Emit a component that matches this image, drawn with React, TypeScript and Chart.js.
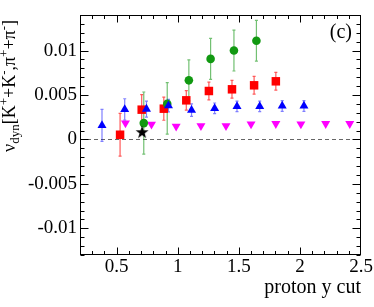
import React, { useEffect, useRef } from "react";
import { Chart, registerables } from "chart.js";
Chart.register(...registerables);

const X_TICKS = [0.5, 1, 1.5, 2, 2.5];
const X_TICK_LABELS = ["0.5", "1", "1.5", "2", "2.5"];
const Y_TICKS = [-0.01, -0.005, 0, 0.005, 0.01];
const Y_TICK_LABELS = ["-0.01", "-0.005", "0", "0.005", "0.01"];

const greenX = [0.722, 0.914, 1.091, 1.269, 1.46, 1.644];
const greenY = [0.00184, 0.004, 0.00665, 0.00906, 0.01, 0.0111];
const greenErrUp = [0.0035, 0.0024, 0.0023, 0.0023, 0.0023, 0.0023];
const greenErrDown = [0.0035, 0.0034, 0.0023, 0.0023, 0.0023, 0.0023];

const redX = [0.528, 0.705, 0.886, 1.07, 1.255, 1.444, 1.625, 1.803];
const redY = [0.00053, 0.00335, 0.00346, 0.0044, 0.00545, 0.00564, 0.00609, 0.00654];
const redErr = [0.0024, 0.0017, 0.0013, 0.0011, 0.001, 0.001, 0.001, 0.001];

const blueX = [0.38, 0.566, 0.744, 0.924, 1.113, 1.302, 1.485, 1.671, 1.855, 2.033];
const blueY = [0.00158, 0.00338, 0.00342, 0.0038, 0.0033, 0.0035, 0.00372, 0.00372, 0.00376, 0.00376];
const blueErr = [0.0018, 0.0012, 0.0009, 0.0007, 0.0007, 0.0006, 0.0006, 0.0006, 0.0006, 0.0006];

const magentaX = [0.572, 0.785, 0.987, 1.19, 1.395, 1.6, 1.803, 2.008, 2.211, 2.408];
const magentaY = [0.00184, 0.00169, 0.00147, 0.00154, 0.00154, 0.00173, 0.00177, 0.00173, 0.00177, 0.00177];

const starX = [0.708];
const starY = [0.00083];

const FONT = "'Liberation Serif', 'DejaVu Serif', serif";

function makeStar(): HTMLCanvasElement {
  const c = document.createElement("canvas");
  c.width = 14;
  c.height = 14;
  const g = c.getContext("2d")!;
  const cx = 7, cy = 7.4, ro = 6.8, ri = 2.7;
  g.beginPath();
  for (let i = 0; i < 10; i++) {
    const r = i % 2 === 0 ? ro : ri;
    const a = -Math.PI / 2 + (i * Math.PI) / 5;
    const px = cx + r * Math.cos(a);
    const py = cy + r * Math.sin(a);
    if (i === 0) g.moveTo(px, py);
    else g.lineTo(px, py);
  }
  g.closePath();
  g.fillStyle = "#000";
  g.fill();
  return c;
}

const pts = (xs: number[], ys: number[]) => xs.map((x, i) => ({ x, y: ys[i] }));

export default function App() {
  const ref = useRef<HTMLCanvasElement>(null);
  useEffect(() => {
    document.body.style.margin = "0";
    const canvas = ref.current!;
    const errSets = [
      { xs: greenX, ys: greenY, up: greenErrUp, dn: greenErrDown, color: "rgba(20,150,20,0.6)" },
      { xs: redX, ys: redY, up: redErr, dn: redErr, color: "rgba(255,0,0,0.65)" },
      { xs: blueX, ys: blueY, up: blueErr, dn: blueErr, color: "rgba(0,0,255,0.5)" },
    ];
    const custom = {
      id: "custom",
      beforeDatasetsDraw(chart: any) {
        const { ctx, chartArea: a, scales } = chart;
        const xs = scales.x, ys = scales.y;
        ctx.save();
        ctx.strokeStyle = "#666";
        ctx.lineWidth = 1;
        ctx.setLineDash([4, 3]);
        const y0 = Math.round(ys.getPixelForValue(0)) + 0.5;
        ctx.beginPath();
        ctx.moveTo(a.left, y0);
        ctx.lineTo(a.right, y0);
        ctx.stroke();
        ctx.setLineDash([]);
        for (const s of errSets) {
          ctx.strokeStyle = s.color;
          ctx.lineWidth = 1.2;
          s.xs.forEach((x: number, i: number) => {
            const px = xs.getPixelForValue(x);
            const pt = ys.getPixelForValue(s.ys[i] + s.up[i]);
            const pb = ys.getPixelForValue(s.ys[i] - s.dn[i]);
            ctx.beginPath();
            ctx.moveTo(px, pt);
            ctx.lineTo(px, pb);
            ctx.moveTo(px - 1.5, pt);
            ctx.lineTo(px + 1.5, pt);
            ctx.moveTo(px - 1.5, pb);
            ctx.lineTo(px + 1.5, pb);
            ctx.stroke();
          });
        }
        ctx.restore();
      },
      afterDraw(chart: any) {
        const { ctx, chartArea: a, scales } = chart;
        const xs = scales.x, ys = scales.y;
        ctx.save();
        ctx.strokeStyle = "#000";
        ctx.lineWidth = 1;
        const L = Math.round(a.left) + 0.5, R = Math.round(a.right) - 0.5;
        const T = Math.round(a.top) + 0.5, B = Math.round(a.bottom) - 0.5;
        ctx.strokeRect(L, T, R - L, B - T);
        ctx.beginPath();
        for (let k = 3; k <= 24; k++) {
          const v = k / 10;
          const major = k % 5 === 0;
          const len = major ? 7 : 3.5;
          const px = Math.round(xs.getPixelForValue(v)) + 0.5;
          ctx.moveTo(px, B);
          ctx.lineTo(px, B - len);
          ctx.moveTo(px, T);
          ctx.lineTo(px, T + len);
        }
        for (let k = -13; k <= 14; k++) {
          const v = k / 1000;
          const major = k % 5 === 0;
          const len = major ? 8 : 4;
          const py = Math.round(ys.getPixelForValue(v)) + 0.5;
          ctx.moveTo(L, py);
          ctx.lineTo(L + len, py);
          ctx.moveTo(R, py);
          ctx.lineTo(R - len, py);
        }
        ctx.stroke();
        ctx.fillStyle = "#000";
        ctx.font = `20px ${FONT}`;
        ctx.textAlign = "right";
        ctx.textBaseline = "alphabetic";
        ctx.fillText("(c)", 352, 38);
        ctx.font = `20px ${FONT}`;
        ctx.fillText("proton y cut", 361, 293);
        const segs: [string, string][] = [
          ["ν", "n"], ["dyn", "sub"], ["[K", "n"], ["+", "sup"], ["+K", "n"], ["-", "sup"],
          [",π", "n"], ["+", "sup"], ["+π", "n"], ["-", "sup"], ["]", "n"],
        ];
        const mainSize = 18, smallSize = 13;
        let total = 0;
        const widths: number[] = [];
        for (const [t, s] of segs) {
          ctx.font = `${s === "n" ? mainSize : smallSize}px ${FONT}`;
          const w = ctx.measureText(t).width;
          widths.push(w);
          total += w;
        }
        ctx.translate(15, 86);
        ctx.rotate(-Math.PI / 2);
        ctx.textAlign = "left";
        let cx = -total / 2;
        segs.forEach(([t, s], i) => {
          ctx.font = `${s === "n" ? mainSize : smallSize}px ${FONT}`;
          const dy = s === "sub" ? 4 : s === "sup" ? -7 : 0;
          ctx.fillText(t, cx, dy);
          cx += widths[i];
        });
        ctx.restore();
      },
    };
    const chart = new Chart(canvas, {
      type: "scatter",
      data: {
        datasets: [
          {
            data: pts(starX, starY),
            pointStyle: makeStar() as any,
            pointRadius: 7,
            backgroundColor: "#000",
            borderWidth: 0,
            order: 1,
          },
          {
            data: pts(blueX, blueY),
            pointStyle: "triangle",
            pointRadius: 5.2,
            backgroundColor: "#0000ff",
            borderColor: "#0000ff",
            borderWidth: 0,
            order: 2,
          },
          {
            data: pts(greenX, greenY),
            pointStyle: "circle",
            pointRadius: 4.3,
            backgroundColor: "#119911",
            borderColor: "#119911",
            borderWidth: 0,
            order: 3,
          },
          {
            data: pts(redX, redY),
            pointStyle: "rect",
            pointRadius: 6,
            backgroundColor: "#ff0000",
            borderColor: "#ff0000",
            borderWidth: 0,
            order: 4,
          },
          {
            data: pts(magentaX, magentaY),
            pointStyle: "triangle",
            rotation: 180,
            pointRadius: 5.2,
            backgroundColor: "#ff00ff",
            borderColor: "#ff00ff",
            borderWidth: 0,
            order: 5,
          },
        ],
      },
      options: {
        responsive: false,
        animation: false,
        layout: { padding: { left: 0, right: 13, top: 15, bottom: 0 } },
        plugins: { legend: { display: false }, tooltip: { enabled: false } },
        scales: {
          x: {
            type: "linear",
            min: 0.2,
            max: 2.5,
            grid: { display: false, drawTicks: false },
            border: { display: false },
            afterBuildTicks: (s: any) => {
              s.ticks = X_TICKS.map((v) => ({ value: v }));
            },
            afterFit: (s: any) => {
              s.height = 52;
            },
            ticks: {
              autoSkip: false,
              maxRotation: 0,
              padding: 1,
              color: "#000",
              font: { family: FONT, size: 19 },
              callback: (v: any) => {
                const i = X_TICKS.findIndex((t) => Math.abs(t - v) < 1e-9);
                return i >= 0 ? X_TICK_LABELS[i] : "";
              },
            },
          },
          y: {
            type: "linear",
            min: -0.013,
            max: 0.014,
            grid: { display: false, drawTicks: false },
            border: { display: false },
            afterBuildTicks: (s: any) => {
              s.ticks = Y_TICKS.map((v) => ({ value: v }));
            },
            afterFit: (s: any) => {
              s.width = 80;
            },
            ticks: {
              autoSkip: false,
              padding: 3,
              color: "#000",
              font: { family: FONT, size: 19 },
              callback: (v: any) => {
                const i = Y_TICKS.findIndex((t) => Math.abs(t - v) < 1e-9);
                return i >= 0 ? Y_TICK_LABELS[i] : "";
              },
            },
          },
        },
      },
      plugins: [custom],
    } as any);
    return () => chart.destroy();
  }, []);
  return <canvas ref={ref} width={374} height={307} style={{ display: "block" }} />;
}
